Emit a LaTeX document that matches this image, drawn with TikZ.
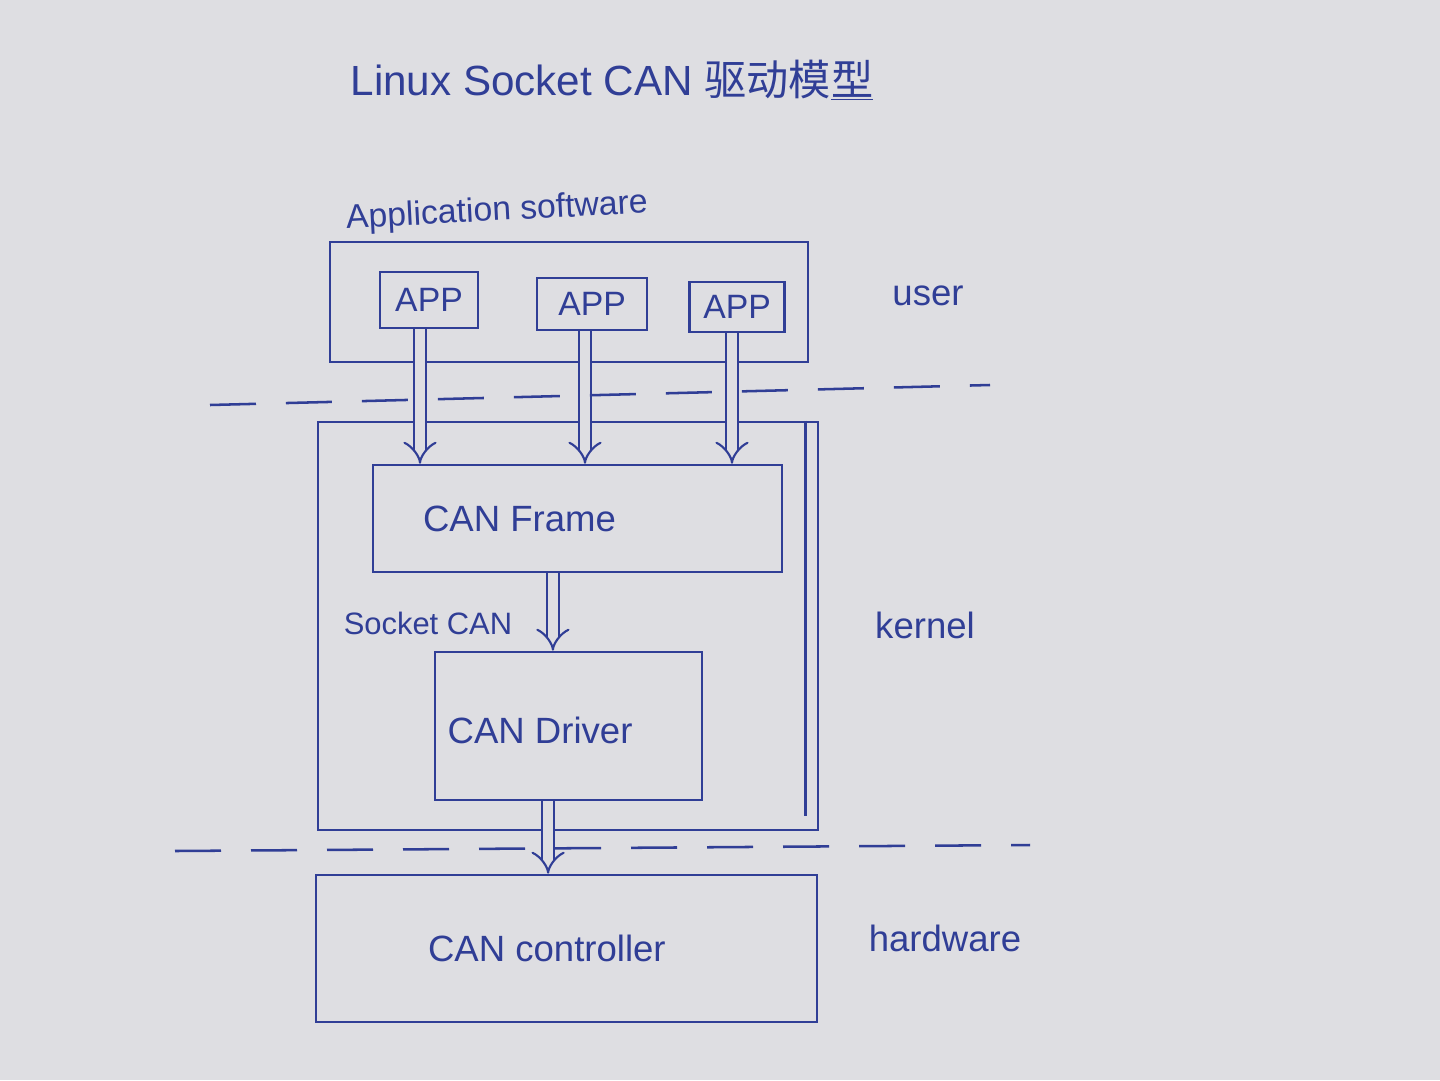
\documentclass[tikz,border=0pt]{standalone}
\usepackage{fontspec}
\setmainfont{Liberation Sans}
\newfontfamily\cjk{Noto Sans CJK SC}
\usetikzlibrary{positioning,arrows.meta}
\definecolor{tinta}{RGB}{48,62,150}
\definecolor{papel}{RGB}{222,222,226}

\begin{document}
\begin{tikzpicture}[
  x=0.25mm, y=-0.25mm,
  caja/.style={draw=tinta, line width=1.8pt, rectangle, inner sep=0pt},
  etiq/.style={text=tinta, font=\fontsize{26}{30}\selectfont},
  flecha/.style={draw=tinta, double=papel, double distance=2.4mm, line width=1.5pt, -{Implies[length=8mm, width=8mm]}},
  separa/.style={draw=tinta, line width=1.8pt, dash pattern=on 11.5mm off 7.5mm}
]
\fill[papel] (0,0) rectangle (1440,1080);
\useasboundingbox (0,0) rectangle (1440,1080);

% titulo
\node[text=tinta, font=\fontsize{30}{34}\selectfont] (titulo) at (612,80) {Linux Socket CAN {\cjk 驱动模\underline{型}}};

% user
\node[etiq, rotate=3, font=\fontsize{24}{28}\selectfont] (appsw) at (497,212) {Application software};
\node[caja] (usr) at (569,302) [minimum width=119.5mm, minimum height=30mm] {};
\node[caja, etiq, font=\fontsize{24}{28}\selectfont] (app1) at (429,300) [minimum width=24.5mm, minimum height=14mm] {APP};
\node[caja, etiq, font=\fontsize{24}{28}\selectfont] (app2) at (592,304) [minimum width=27.5mm, minimum height=13mm] {APP};
\node[caja, etiq, font=\fontsize{24}{28}\selectfont] (app3) at (737,307) [minimum width=23.75mm, minimum height=12.5mm] {APP};

% kernel
\node[caja] (kern) at (568,626) [minimum width=125mm, minimum height=102mm] {};
\node[caja, label={[etiq, xshift=-14.5mm]center:CAN Frame}] (frame) at (577.5,518.5) [minimum width=102.25mm, minimum height=26.75mm] {};
\node[etiq, font=\fontsize{22}{26}\selectfont] (sock) at (428,623) {Socket CAN};
\node[caja, label={[etiq, xshift=-7.1mm, yshift=-1mm]center:CAN Driver}] (driver) at (568.5,726) [minimum width=66.75mm, minimum height=37mm] {};
\draw[tinta, line width=1.8pt] ([xshift=-3.5mm]kern.north east) -- ([xshift=-3.5mm, yshift=3.75mm]kern.south east);

% hardware
\node[caja, label={[etiq, xshift=-4.9mm]center:CAN controller}] (ctrl) at (566.5,948.5) [minimum width=125.25mm, minimum height=36.75mm] {};

% capas
\node[etiq] (user)   at (928,296) {user};
\node[etiq] (kernel) at (925,625) {kernel};
\node[etiq] (hw)     at (945,938) {hardware};

\draw[flecha] ([xshift=-2.25mm]app1.south) -- ([xshift=-2.25mm]app1.south |- frame.north);
\draw[flecha] ([xshift=-1.75mm]app2.south) -- ([xshift=-1.75mm]app2.south |- frame.north);
\draw[flecha] ([xshift=-1.25mm]app3.south) -- ([xshift=-1.25mm]app3.south |- frame.north);
\draw[flecha] ([xshift=-3.9mm]driver.north |- frame.south) -- ([xshift=-3.9mm]driver.north);
\draw[flecha] ([xshift=-5.1mm]driver.south) -- ([xshift=-5.1mm]driver.south |- ctrl.north);

\coordinate (s1a) at (210,405);
\coordinate (s1b) at (990,385);
\coordinate (s2a) at (175,851);
\coordinate (s2b) at (1030,845);
\draw[separa] (s1a) -- (s1b);
\draw[separa] (s2a) -- (s2b);
\end{tikzpicture}
\end{document}
